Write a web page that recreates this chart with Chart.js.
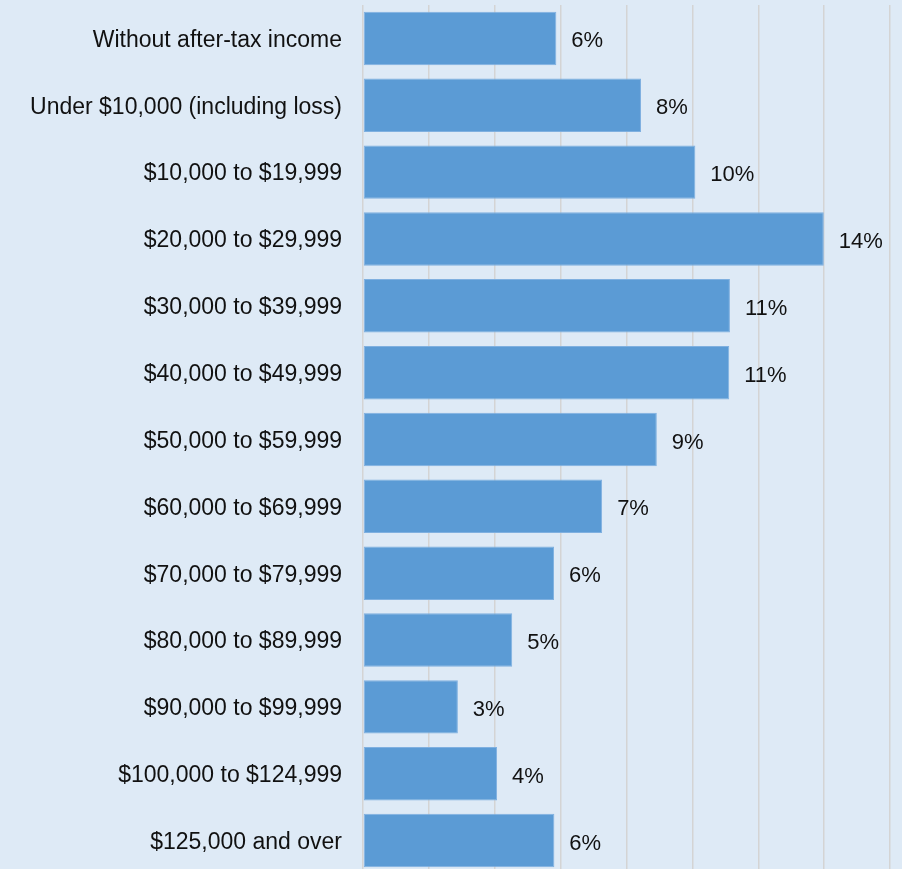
<!DOCTYPE html>
<html>
<head>
<meta charset="utf-8">
<script src="https://cdn.jsdelivr.net/npm/chart.js@4"></script>
<style>
  html, body { margin: 0; padding: 0; background: #deeaf6; overflow: hidden; }
  #wrap { width: 902px; height: 869px; overflow: hidden; }
</style>
</head>
<body>
<div id="wrap"><canvas id="chart1" width="902" height="876"></canvas></div>
<script>
const categories = [
  'Without after-tax income',
  'Under $10,000 (including loss)',
  '$10,000 to $19,999',
  '$20,000 to $29,999',
  '$30,000 to $39,999',
  '$40,000 to $49,999',
  '$50,000 to $59,999',
  '$60,000 to $69,999',
  '$70,000 to $79,999',
  '$80,000 to $89,999',
  '$90,000 to $99,999',
  '$100,000 to $124,999',
  '$125,000 and over'
];
const shares = [5.87, 8.44, 10.09, 13.99, 11.14, 11.12, 8.92, 7.26, 5.8, 4.53, 2.88, 4.07, 5.81];

const font = "'Liberation Sans', Arial, sans-serif";

// value labels at the end of each bar
const barLabels = {
  id: 'barLabels',
  afterDatasetsDraw(chart) {
    const ctx = chart.ctx;
    const meta = chart.getDatasetMeta(0);
    ctx.save();
    ctx.font = '22px ' + font;
    ctx.fillStyle = '#111';
    ctx.textAlign = 'left';
    ctx.textBaseline = 'middle';
    meta.data.forEach((bar, i) => {
      ctx.fillText(Math.round(shares[i]) + '%', bar.x + 15, bar.y + 3);
    });
    ctx.restore();
  }
};

const chart = new Chart('chart1', {
  type: 'bar',
  data: {
    labels: categories,
    datasets: [{
      data: shares,
      backgroundColor: '#5b9bd5',
      borderColor: '#7fb0e0',
      borderWidth: 1,
      borderSkipped: false,
      categoryPercentage: 0.8,
      barPercentage: 1
    }]
  },
  options: {
    indexAxis: 'y',
    responsive: false,
    animation: false,
    layout: { padding: { top: 5, right: 12, bottom: 2, left: 0 } },
    plugins: {
      legend: { display: false },
      tooltip: { enabled: false }
    },
    scales: {
      x: {
        min: 0,
        max: 16,
        ticks: { display: false, stepSize: 2 },
        grid: { color: '#d4d4d4', lineWidth: 1.5, drawTicks: false },
        border: { display: false },
        afterFit: (axis) => { axis.height = 0; axis.paddingLeft = 0; axis.paddingRight = 0; }
      },
      y: {
        ticks: { color: '#111', padding: 21, labelOffset: 2, font: { family: font, size: 23 } },
        grid: { display: false, drawTicks: false },
        border: { display: false },
        afterFit: (axis) => { axis.width = 363; axis.paddingTop = 0; axis.paddingBottom = 0; }
      }
    }
  },
  plugins: [barLabels]
});
</script>
</body>
</html>
